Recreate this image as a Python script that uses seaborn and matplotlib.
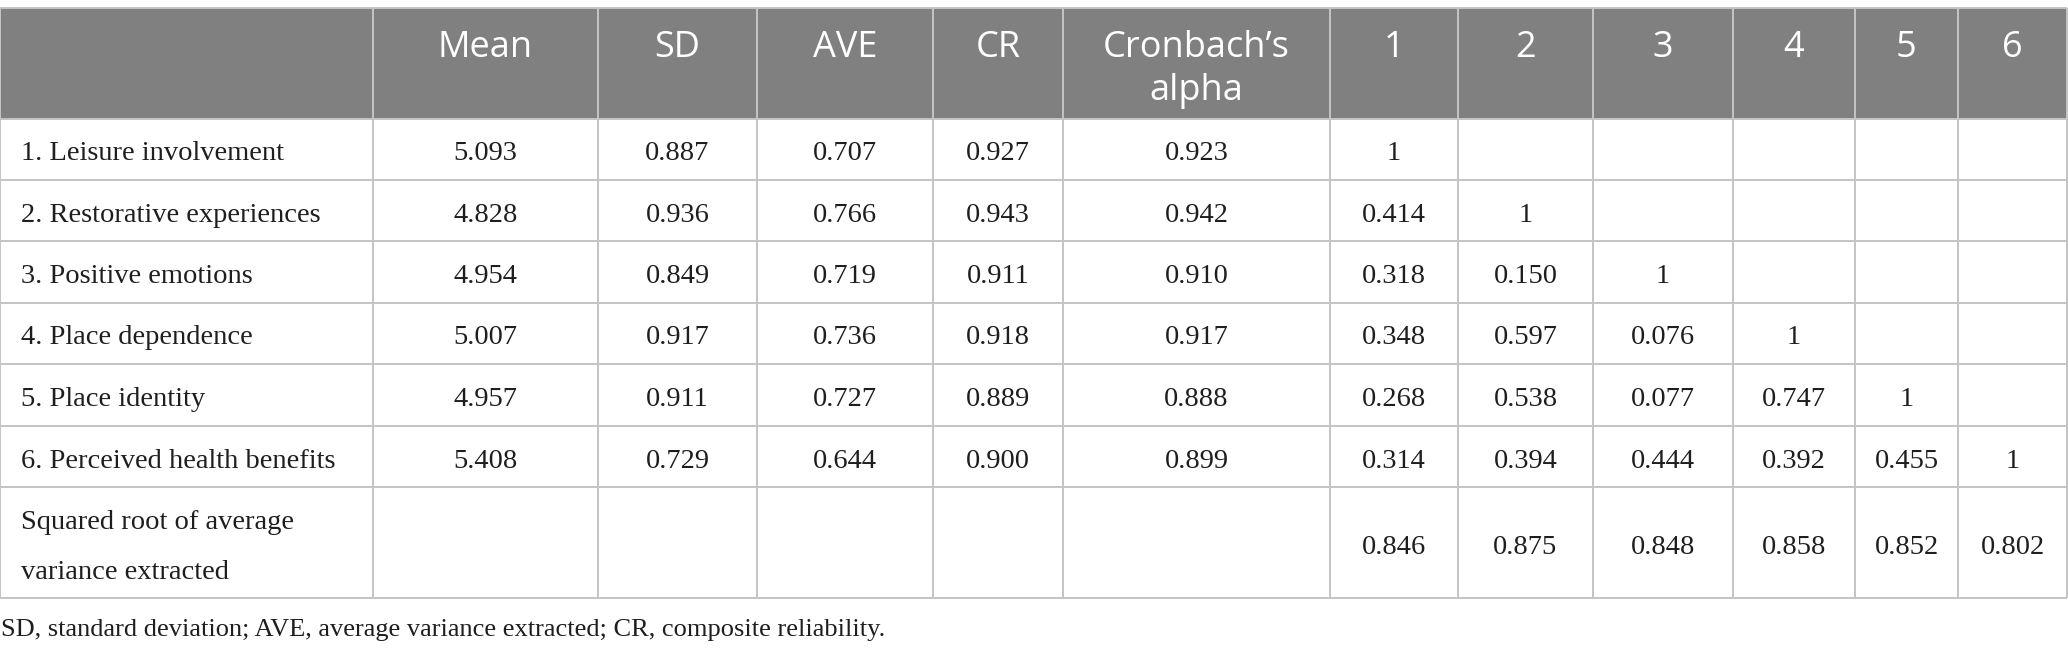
import matplotlib
matplotlib.use("Agg")
import matplotlib.pyplot as plt
import seaborn as sns

# ---------------- data ----------------
header = ["", "Mean", "SD", "AVE", "CR", "Cronbach\u2019s\nalpha", "1", "2", "3", "4", "5", "6"]
constructs = ["1. Leisure involvement", "2. Restorative experiences", "3. Positive emotions",
              "4. Place dependence", "5. Place identity", "6. Perceived health benefits",
              "Squared root of average\nvariance extracted"]
mean = [5.093, 4.828, 4.954, 5.007, 4.957, 5.408]
sd = [0.887, 0.936, 0.849, 0.917, 0.911, 0.729]
ave = [0.707, 0.766, 0.719, 0.736, 0.727, 0.644]
cr = [0.927, 0.943, 0.911, 0.918, 0.889, 0.900]
alpha = [0.923, 0.942, 0.910, 0.917, 0.888, 0.899]
corr = [
    [1],
    [0.414, 1],
    [0.318, 0.150, 1],
    [0.348, 0.597, 0.076, 1],
    [0.268, 0.538, 0.077, 0.747, 1],
    [0.314, 0.394, 0.444, 0.392, 0.455, 1],
]
sqrt_ave = [0.846, 0.875, 0.848, 0.858, 0.852, 0.802]
footnote = "SD, standard deviation; AVE, average variance extracted; CR, composite reliability."

# ---------------- layout (pixels) ----------------
W, H = 2068, 655
col_edges = [0, 373, 598, 757, 933, 1063, 1330, 1458, 1593, 1733, 1855, 1958, 2067]
row_edges = [8, 119, 180, 241, 303, 364, 426, 487, 598]
header_fill = "#808080"
grid_color = "#c4c4c4"
text_color = "#1e1e1e"

sns.set_theme(style="white")
plt.rcParams["font.family"] = ["Liberation Serif", "DejaVu Serif"]

fig = plt.figure(figsize=(W / 100, H / 100), dpi=100)
ax = fig.add_axes([0, 0, 1, 1])
ax.set_xlim(0, W)
ax.set_ylim(H, 0)
ax.axis("off")

# header background
ax.fill_between([col_edges[0], col_edges[-1]], row_edges[0], row_edges[1],
                color=header_fill, linewidth=0, zorder=1)

# grid
ax.hlines(row_edges, col_edges[0], col_edges[-1], colors=grid_color, linewidth=1.4, zorder=2)
ax.vlines(col_edges, row_edges[0], row_edges[-1], colors=grid_color, linewidth=1.4, zorder=2)

# header text
for j, lab in enumerate(header):
    if not lab:
        continue
    cx = (col_edges[j] + col_edges[j + 1]) / 2
    for k, line in enumerate(lab.split("\n")):
        ax.text(cx, 57 + 43 * k, line, ha="center", va="baseline", color="white",
                fontsize=26, family=["Open Sans", "DejaVu Sans"], zorder=3)

def fmt(v):
    return "1" if v == 1 else f"{v:.3f}"

body_fs = 20.5
n = len(constructs)
for i in range(n):
    top, bot = row_edges[i + 1], row_edges[i + 2]
    cy = (top + bot) / 2
    # label
    lines = constructs[i].split("\n")
    if len(lines) == 1:
        ax.text(21, cy + 11, lines[0], ha="left", va="baseline", color=text_color,
                fontsize=body_fs, zorder=3)
    else:
        for k, line in enumerate(lines):
            ax.text(21, cy - 13.5 + 50 * k, line, ha="left", va="baseline",
                    color=text_color, fontsize=body_fs, zorder=3)
    if i < 6:
        vals = [mean[i], sd[i], ave[i], cr[i], alpha[i]] + corr[i]
        cols = list(range(1, 1 + len(vals)))
    else:
        vals = sqrt_ave
        cols = list(range(6, 12))
    for c, v in zip(cols, vals):
        cx = (col_edges[c] + col_edges[c + 1]) / 2
        ax.text(cx, cy + 11, fmt(v), ha="center", va="baseline", color=text_color,
                fontsize=body_fs, zorder=3)

ax.text(1, 636, footnote, ha="left", va="baseline", color=text_color, fontsize=19, zorder=3)

fig.savefig("out.png", dpi=100)
